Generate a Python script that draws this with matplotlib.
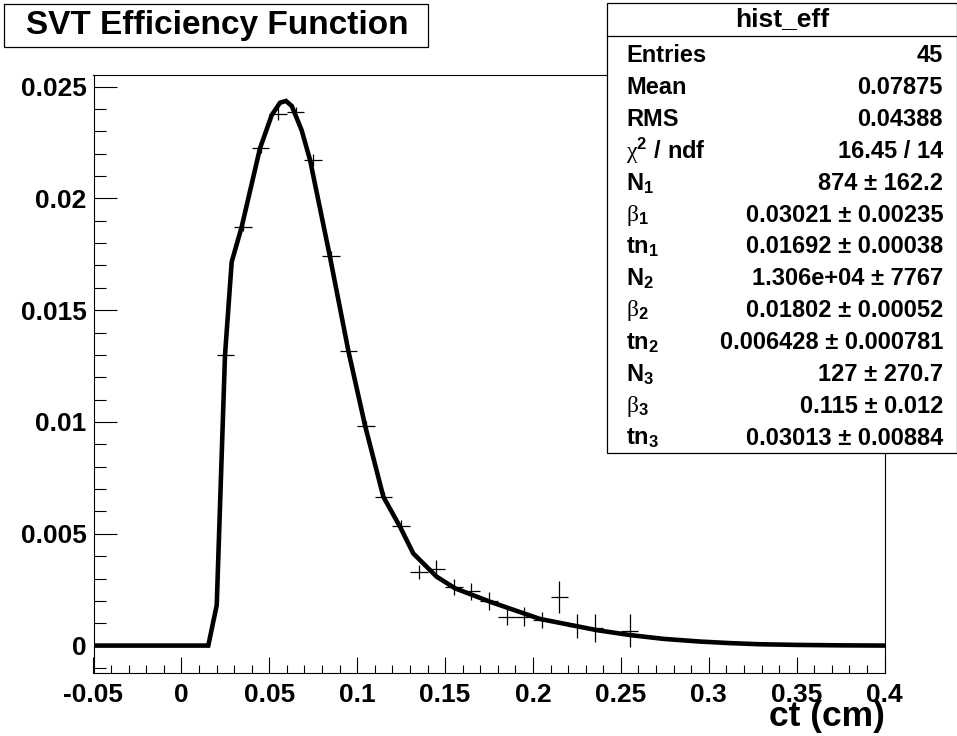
import matplotlib
matplotlib.use("Agg")
import matplotlib.pyplot as plt
from matplotlib.patches import Rectangle
from matplotlib.ticker import MultipleLocator, FormatStrFormatter

plt.rcParams['font.family'] = ['Liberation Sans', 'DejaVu Sans']
plt.rcParams['font.weight'] = 'bold'
plt.rcParams['axes.unicode_minus'] = False
plt.rcParams['mathtext.fontset'] = 'custom'
plt.rcParams['mathtext.rm'] = 'Liberation Serif:weight=normal'
plt.rcParams['mathtext.bf'] = 'Liberation Sans:bold'
plt.rcParams['mathtext.it'] = 'Liberation Sans:bold'

# histogram points (bin centres, content, error)
ct = [0.025, 0.035, 0.045, 0.055, 0.065, 0.075, 0.085, 0.095, 0.105, 0.115,
      0.125, 0.135, 0.145, 0.155, 0.165, 0.175, 0.185, 0.195, 0.205, 0.215,
      0.225, 0.235, 0.255]
eff = [0.01299, 0.01873, 0.02224, 0.02378, 0.02387, 0.02171, 0.01743, 0.01317,
       0.00983, 0.00665, 0.00534, 0.00330, 0.00343, 0.00264, 0.00243, 0.00199,
       0.00129, 0.00129, 0.00114, 0.00216, 0.00087, 0.00077, 0.00066]
eff_err = [0.0002, 0.0002, 0.00022, 0.00026, 0.00022, 0.00026, 0.00022, 0.0002,
           0.0002, 0.00022, 0.00026, 0.0003, 0.00039, 0.00036, 0.00039, 0.0004,
           0.00035, 0.00042, 0.00037, 0.00072, 0.00055, 0.00062, 0.00073]
bin_half = 0.005

# fitted function, as drawn
fit_x = [-0.05, 0.0153, 0.0201, 0.0248, 0.0286, 0.0343, 0.0447, 0.0514, 0.0561,
         0.0595, 0.0628, 0.0684, 0.0732, 0.0845, 0.0950, 0.1045, 0.1149, 0.1244,
         0.1319, 0.1452, 0.1557, 0.1756, 0.2040, 0.2363, 0.2553, 0.2742, 0.2950,
         0.3121, 0.3290, 0.35, 0.375, 0.4]
fit_y = [0.0, 0.0, 0.00181, 0.01299, 0.01716, 0.01873, 0.02224, 0.02373, 0.02428,
         0.02436, 0.02413, 0.02305, 0.02171, 0.01739, 0.01317, 0.00983, 0.00665,
         0.00531, 0.00412, 0.00308, 0.00256, 0.00196, 0.00119, 0.00069, 0.00047,
         0.00030, 0.00018, 0.00011, 0.00006, 0.00003, 0.00001, 0.0]

stat_labels = ['Entries', 'Mean', 'RMS', r'$\mathrm{\chi}^{\mathbf{2}}\mathbf{\ /\ ndf}$',
               r'$\mathbf{N}_{\mathbf{1}}$', r'$\mathrm{\beta}_{\mathbf{1}}$', r'$\mathbf{tn}_{\mathbf{1}}$',
               r'$\mathbf{N}_{\mathbf{2}}$', r'$\mathrm{\beta}_{\mathbf{2}}$', r'$\mathbf{tn}_{\mathbf{2}}$',
               r'$\mathbf{N}_{\mathbf{3}}$', r'$\mathrm{\beta}_{\mathbf{3}}$', r'$\mathbf{tn}_{\mathbf{3}}$']
stat_values = ['45', '0.07875', '0.04388', '16.45 / 14', '874 ± 162.2',
               '0.03021 ± 0.00235', '0.01692 ± 0.00038', '1.306e+04 ± 7767',
               '0.01802 ± 0.00052', '0.006428 ± 0.000781', '127 ± 270.7',
               '0.115 ± 0.012', '0.03013 ± 0.00884']

W, H = 957, 736
fig = plt.figure(figsize=(W / 100, H / 100), dpi=100)
ax = fig.add_axes([93.5 / W, 1 - 673.3 / H, (884.6 - 93.5) / W, (673.3 - 75) / H])

ax.errorbar(ct, eff, xerr=bin_half, yerr=eff_err, fmt='none', ecolor='black',
            elinewidth=0.9, capsize=0, zorder=2)
ax.plot(fit_x, fit_y, color='black', lw=3.3, zorder=3, solid_joinstyle='miter')

ax.set_xlim(-0.05, 0.4)
ax.set_ylim(-0.00124, 0.02552)
ax.xaxis.set_major_locator(MultipleLocator(0.05))
ax.xaxis.set_minor_locator(MultipleLocator(0.01))
ax.yaxis.set_major_locator(MultipleLocator(0.005))
ax.yaxis.set_minor_locator(MultipleLocator(0.001))
ax.xaxis.set_major_formatter(FormatStrFormatter('%g'))
ax.yaxis.set_major_formatter(FormatStrFormatter('%g'))
ax.tick_params(axis='both', which='both', direction='in', top=False, right=False,
               width=0.8, labelsize=19)
ax.tick_params(axis='x', which='major', length=11.5, pad=7)
ax.tick_params(axis='x', which='minor', length=5.8)
ax.tick_params(axis='y', which='major', length=16.5, pad=5)
ax.tick_params(axis='y', which='minor', length=8.6)
for s in ax.spines.values():
    s.set_linewidth(0.8)

fig.text(884.6 / W, 1 - 733 / H, 'ct (cm)', ha='right', va='bottom', fontsize=25.5)

# title box
fig.patches.append(Rectangle((4 / W, 1 - 46.7 / H), 424 / W, 42.7 / H, transform=fig.transFigure,
                             facecolor='white', edgecolor='black', lw=0.9, zorder=5))
fig.text(217 / W, 1 - 25.5 / H, 'SVT Efficiency Function', ha='center', va='center',
         fontsize=24, zorder=6)

# stats box
fig.patches.append(Rectangle((607 / W, 1 - 453 / H), 349.5 / W, 450 / H, transform=fig.transFigure,
                             facecolor='white', edgecolor='black', lw=0.9, zorder=5))
fig.lines.append(plt.Line2D([607 / W, 956.5 / W], [1 - 36 / H, 1 - 36 / H],
                            transform=fig.transFigure, color='black', lw=0.9, zorder=6))
fig.text(782 / W, 1 - 19.5 / H, 'hist_eff', ha='center', va='center', fontsize=19, zorder=6)
for i, (lab, val) in enumerate(zip(stat_labels, stat_values)):
    y = 1 - (55.5 + i * 31.9) / H
    fig.text(626 / W, y, lab, ha='left', va='center', fontsize=17, zorder=6)
    fig.text(943 / W, y, val, ha='right', va='center', fontsize=17, zorder=6)

fig.savefig('out.png', dpi=100, facecolor='white')
